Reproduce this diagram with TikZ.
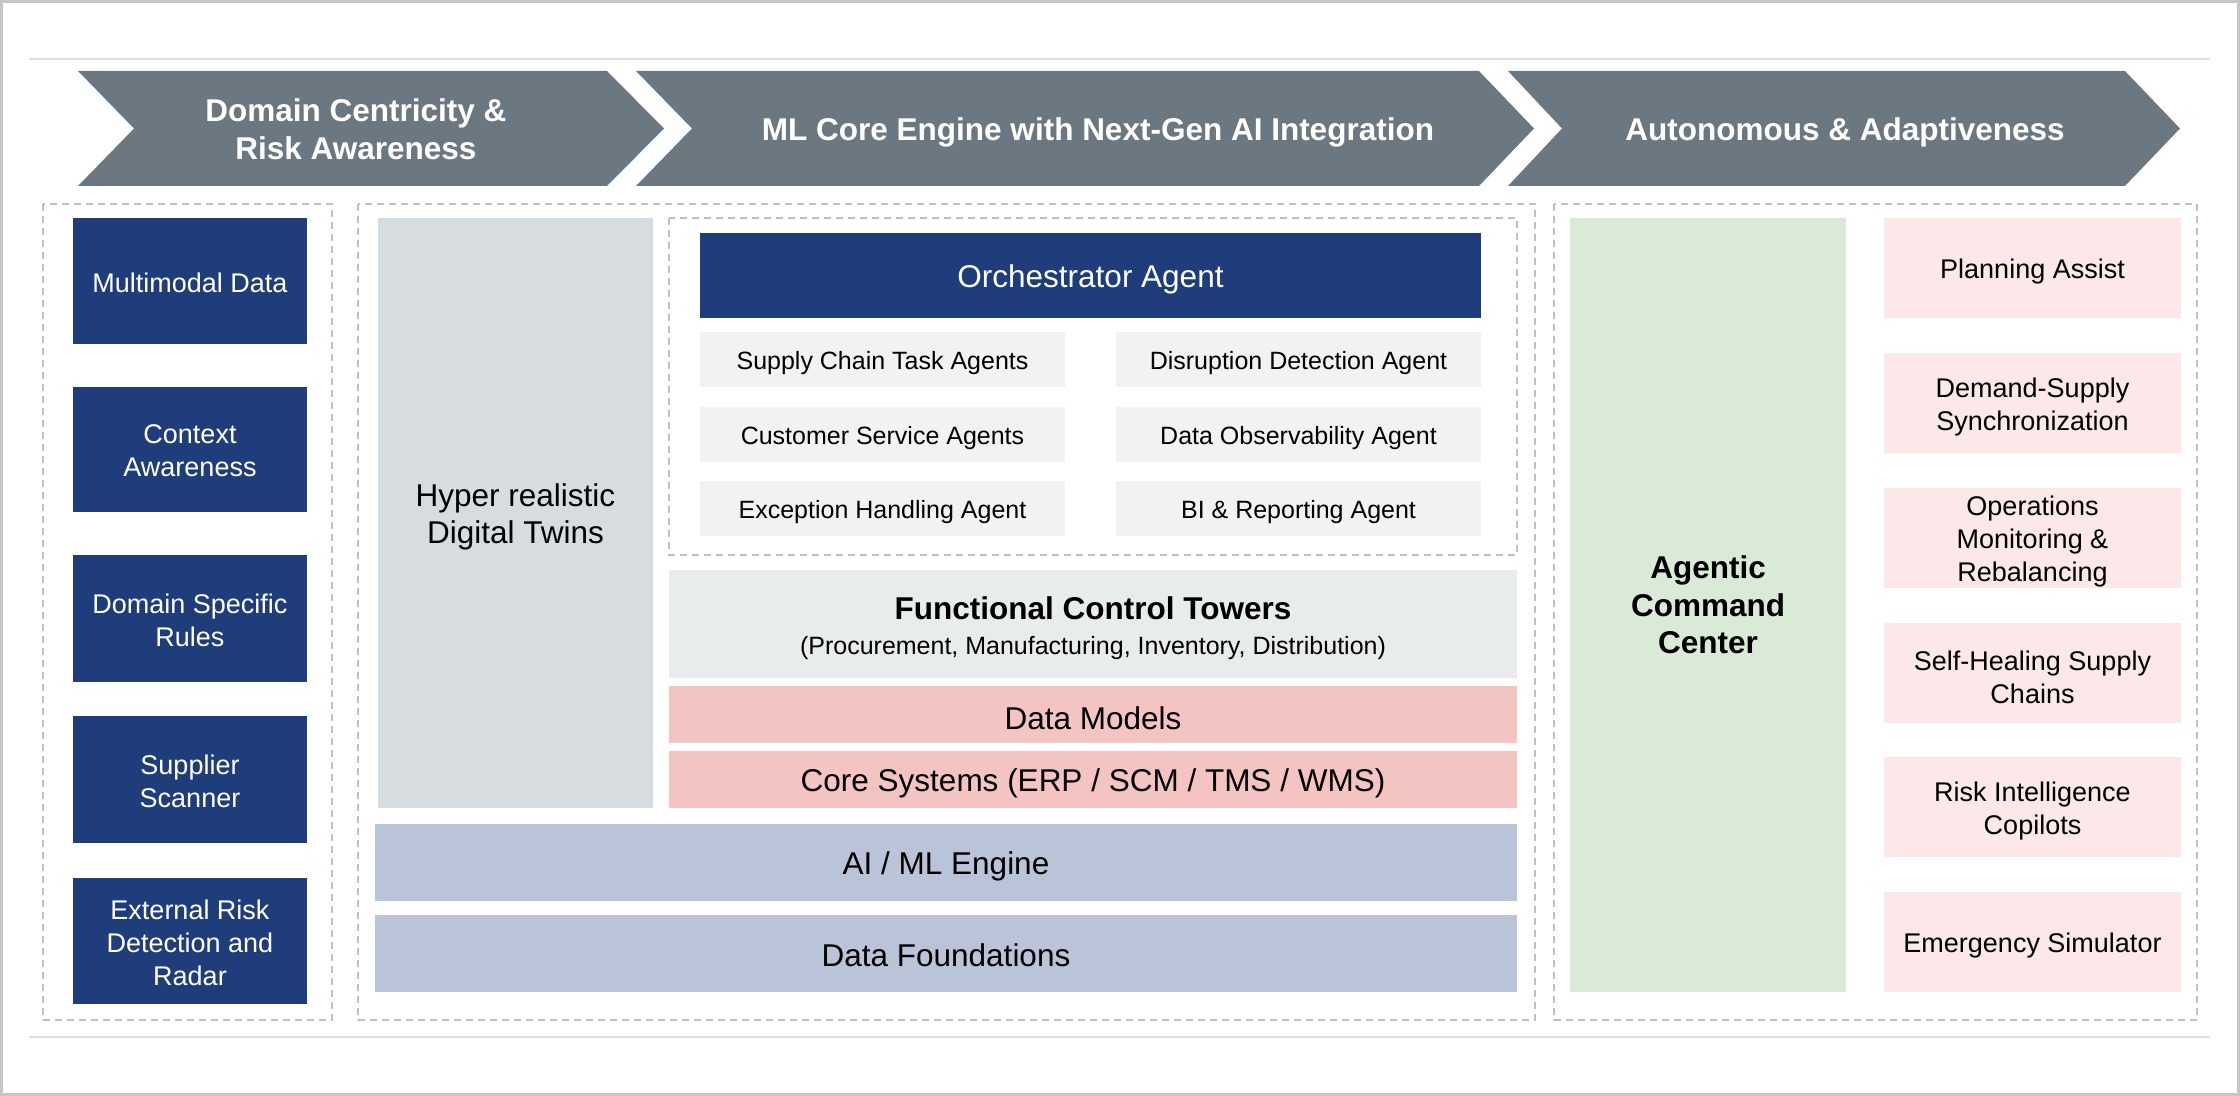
\documentclass[tikz,border=0pt]{standalone}
\usepackage{fontspec}
\setmainfont{Liberation Sans}
\usepackage{xcolor}

\definecolor{chevgray}{HTML}{6B7882}
\definecolor{navy}{HTML}{1F3D7A}
\definecolor{twingray}{HTML}{D6DCE0}
\definecolor{agentgray}{HTML}{F2F2F2}
\definecolor{towergray}{HTML}{E9ECED}
\definecolor{modelpink}{HTML}{F4C4C2}
\definecolor{engineblue}{HTML}{BAC4D8}
\definecolor{cmdgreen}{HTML}{D9EBD7}
\definecolor{outpink}{HTML}{FCE8E8}
\definecolor{dashgray}{HTML}{BFBFBF}

\tikzset{
  panel/.style={draw=dashgray, line width=1pt, dash pattern=on 3.5pt off 2.5pt},
  phasetext/.style={text=white, align=center, font=\bfseries\fontsize{15.75}{19}\selectfont},
  lefttext/.style={text=white, align=center, yshift=-0.7pt, font=\fontsize{13.5}{16.5}\selectfont},
  bigtext/.style={text=black, align=center, yshift=-2pt, font=\fontsize{15.75}{18.5}\selectfont},
  agenttext/.style={text=black, yshift=-2pt, font=\fontsize{12.5}{15}\selectfont},
  righttext/.style={text=black, align=center, yshift=-2pt, font=\fontsize{13.5}{16.5}\selectfont}
}

\begin{document}
\begin{tikzpicture}[x=0.5pt, y=-0.5pt]
  \useasboundingbox (0,0) rectangle (2240,1096);
  \draw[gray!45, line width=1.5pt] (1.5,1.5) rectangle (2238.5,1094.5);
  \draw[gray!25, line width=0.75pt] (29,59) -- (2210,59);
  \draw[gray!25, line width=0.75pt] (29,1037) -- (2210,1037);

  % phases
  \fill[chevgray] (78,71) -- (607,71) -- (664,128.5) -- (607,186) -- (78,186) -- (134,128.5) -- cycle;
  \node(phase1)[phasetext] at (356,129) {Domain Centricity \&\\Risk Awareness};
  \fill[chevgray] (636,71) -- (1479,71) -- (1534,128.5) -- (1479,186) -- (636,186) -- (692,128.5) -- cycle;
  \node(phase2)[phasetext] at (1098,132.5) {ML Core Engine with Next-Gen AI Integration};
  \fill[chevgray] (1508,71) -- (2125,71) -- (2180,128.5) -- (2125,186) -- (1508,186) -- (1562,128.5) -- cycle;
  \node(phase3)[phasetext] at (1845,132.5) {Autonomous \& Adaptiveness};

  % panels
  \draw[panel] (43,204) rectangle (332,1020);
  \draw[panel] (358,204) rectangle (1535,1020);
  \draw[panel] (1554,204) rectangle (2197,1020);

  % left column
  \fill[navy] (73,218) rectangle +(234,126) node(multimodal)[midway,lefttext] {Multimodal Data};
  \fill[navy] (73,387) rectangle +(234,125) node(context)[midway,lefttext] {Context\\Awareness};
  \fill[navy] (73,555) rectangle +(234,127) node(rules)[midway,lefttext] {Domain Specific\\Rules};
  \fill[navy] (73,716) rectangle +(234,127) node(supplier)[midway,lefttext] {Supplier\\Scanner};
  \fill[navy] (73,878) rectangle +(234,126) node(radar)[midway,lefttext] {External Risk\\Detection and\\Radar};

  % core engine
  \fill[twingray] (378,218) rectangle +(275,590) node(twins)[midway,bigtext] {Hyper realistic\\Digital Twins};
  \draw[panel] (669,218) rectangle (1517,555);
  \fill[navy] (700,233) rectangle +(781,85) node(orch)[midway,bigtext,text=white] {Orchestrator Agent};
  \fill[agentgray] (700,332) rectangle +(365,55) node(sctask)[midway,agenttext] {Supply Chain Task Agents};
  \fill[agentgray] (1116,332) rectangle +(365,55) node(disrupt)[midway,agenttext] {Disruption Detection Agent};
  \fill[agentgray] (700,407) rectangle +(365,55) node(custsvc)[midway,agenttext] {Customer Service Agents};
  \fill[agentgray] (1116,407) rectangle +(365,55) node(observe)[midway,agenttext] {Data Observability Agent};
  \fill[agentgray] (700,481) rectangle +(365,55) node(except)[midway,agenttext] {Exception Handling Agent};
  \fill[agentgray] (1116,481) rectangle +(365,55) node(bireport)[midway,agenttext] {BI \& Reporting Agent};
  \fill[towergray] (669,570) rectangle +(848,108) node(towers)[midway,text=black,align=center,yshift=-2pt,font=\fontsize{12.5}{16}\selectfont]
    {{\bfseries\fontsize{15.75}{16}\selectfont Functional Control Towers}\\[1.5pt](Procurement, Manufacturing, Inventory, Distribution)};
  \fill[modelpink] (669,686) rectangle +(848,57) node(models)[midway,bigtext] {Data Models};
  \fill[modelpink] (669,751) rectangle +(848,57) node(coresys)[midway,bigtext] {Core Systems (ERP / SCM / TMS / WMS)};
  \fill[engineblue] (375,824) rectangle +(1142,77) node(aiml)[midway,bigtext] {AI / ML Engine};
  \fill[engineblue] (375,915) rectangle +(1142,77) node(foundations)[midway,bigtext,yshift=1pt] {Data Foundations};

  % right column
  \fill[cmdgreen] (1570,218) rectangle +(276,774) node(command)[midway,bigtext,yshift=2pt,font=\bfseries\fontsize{15.75}{18.75}\selectfont] {Agentic\\Command\\Center};
  \fill[outpink] (1884,218) rectangle +(297,100) node(planning)[midway,righttext] {Planning Assist};
  \fill[outpink] (1884,353) rectangle +(297,100) node(demand)[midway,righttext] {Demand-Supply\\Synchronization};
  \fill[outpink] (1884,488) rectangle +(297,100) node(operations)[midway,righttext] {Operations\\Monitoring \&\\Rebalancing};
  \fill[outpink] (1884,623) rectangle +(297,100) node(selfheal)[midway,righttext] {Self-Healing Supply\\Chains};
  \fill[outpink] (1884,757) rectangle +(297,100) node(copilots)[midway,righttext] {Risk Intelligence\\Copilots};
  \fill[outpink] (1884,892) rectangle +(297,100) node(emergency)[midway,righttext] {Emergency Simulator};
\end{tikzpicture}
\end{document}
